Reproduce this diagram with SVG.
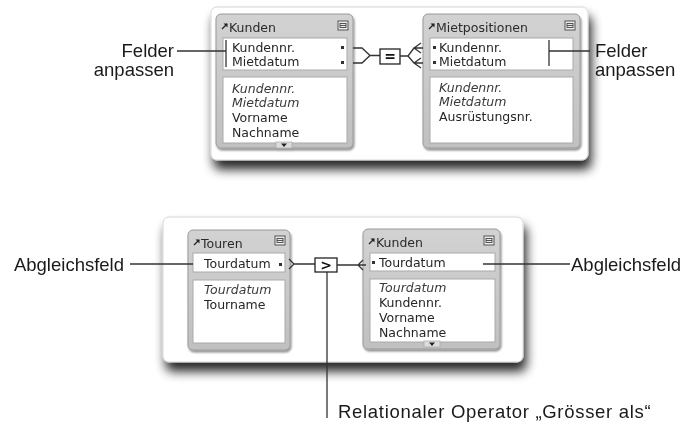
<svg xmlns="http://www.w3.org/2000/svg" width="690" height="427" viewBox="0 0 690 427">
<defs>
<filter id="pshadow" x="-10%" y="-15%" width="125%" height="150%">
<feGaussianBlur in="SourceAlpha" stdDeviation="5.5"/>
<feOffset dx="3" dy="9" result="b"/>
<feComponentTransfer><feFuncA type="linear" slope="0.85"/></feComponentTransfer>
<feMerge><feMergeNode/><feMergeNode in="SourceGraphic"/></feMerge>
</filter>
<filter id="tshadow" x="-10%" y="-10%" width="125%" height="125%">
<feGaussianBlur in="SourceAlpha" stdDeviation="1.2"/>
<feOffset dx="0.5" dy="1.5"/>
<feComponentTransfer><feFuncA type="linear" slope="0.45"/></feComponentTransfer>
<feMerge><feMergeNode/><feMergeNode in="SourceGraphic"/></feMerge>
</filter>
<linearGradient id="tg" x1="0" y1="0" x2="0" y2="1">
<stop offset="0" stop-color="#d2d2d2"/>
<stop offset="1" stop-color="#c0c0c0"/>
</linearGradient>
<g id="menuicon">
<rect x="0" y="0" width="10" height="9" fill="#ececec" stroke="#555" stroke-width="1"/>
<rect x="2" y="2.5" width="6" height="4" fill="none" stroke="#444" stroke-width="0.9"/>
<line x1="2" y1="4.5" x2="8" y2="4.5" stroke="#444" stroke-width="0.9"/>
</g>
<g id="arrowicon">
<path d="M0,6 L5,1" stroke="#222" stroke-width="1.3" fill="none"/>
<path d="M1.5,0.5 H5.5 V4.5 Z" fill="#222"/>
</g>
<g id="scrolltab">
<rect x="0" y="0" width="16" height="6" fill="#dcdcdc" stroke="#aaa" stroke-width="0.7"/>
<path d="M5,1.5 H11 L8,5 Z" fill="#222"/>
</g>
</defs>
<style>
.panel{fill:#ffffff;stroke:#d6d6d6;stroke-width:1}
.tbl{fill:url(#tg);stroke:#9a9a9a;stroke-width:1}
.box{fill:#ffffff;stroke:#a9a9a9;stroke-width:1}
.t{font-family:"DejaVu Sans",sans-serif;font-size:12.5px;fill:#262626}
.it{font-style:italic;fill:#3a3a3a}
.ttl{font-family:"DejaVu Sans",sans-serif;font-size:12.5px;fill:#2a2a2a}
.lbl{font-family:"Liberation Sans",Arial,sans-serif;font-size:18.5px;fill:#1a1a1a}
.ln{stroke:#333;stroke-width:1.3;fill:none}
.op{fill:#fff;stroke:#222;stroke-width:1.3}
.opt{font-family:"DejaVu Sans",sans-serif;font-size:14px;font-weight:bold;fill:#111;text-anchor:middle}
.mk{fill:#333}
</style>

<rect class="panel" x="211" y="7" width="377" height="153" rx="6" filter="url(#pshadow)"/>
<rect class="panel" x="163" y="217" width="360" height="145" rx="6" filter="url(#pshadow)"/>

<g id="kunden1" filter="url(#tshadow)">
<rect class="tbl" x="216" y="14" width="137" height="134" rx="5"/>
<use href="#arrowicon" x="222" y="23"/>
<text class="ttl" x="229" y="32">Kunden</text>
<use href="#menuicon" x="338" y="21"/>
<rect class="box" x="223" y="38" width="124" height="32"/>
<text class="t" x="232" y="52">Kundennr.</text>
<text class="t" x="232" y="66">Mietdatum</text>
<rect class="mk" x="341" y="46" width="3" height="3"/>
<rect class="mk" x="341" y="61" width="3" height="3"/>
<rect class="box" x="223" y="77" width="124" height="66"/>
<text class="t it" x="232" y="93">Kundennr.</text>
<text class="t it" x="232" y="107">Mietdatum</text>
<text class="t" x="232" y="122">Vorname</text>
<text class="t" x="232" y="137">Nachname</text>
<use href="#scrolltab" x="276" y="142"/>
</g>

<g id="mietpositionen" filter="url(#tshadow)">
<rect class="tbl" x="423" y="14" width="157" height="134" rx="5"/>
<use href="#arrowicon" x="429" y="23"/>
<text class="ttl" x="436" y="32">Mietpositionen</text>
<use href="#menuicon" x="565" y="21"/>
<rect class="box" x="430" y="38" width="143" height="32"/>
<rect class="mk" x="433" y="46" width="3" height="3"/>
<rect class="mk" x="433" y="61" width="3" height="3"/>
<text class="t" x="439" y="52">Kundennr.</text>
<text class="t" x="439" y="66">Mietdatum</text>
<rect class="box" x="430" y="77" width="143" height="66"/>
<text class="t it" x="439" y="92">Kundennr.</text>
<text class="t it" x="439" y="106">Mietdatum</text>
<text class="t" x="439" y="121">Ausrüstungsnr.</text>
</g>

<g id="touren" filter="url(#tshadow)">
<rect class="tbl" x="188" y="230" width="102" height="120" rx="5"/>
<use href="#arrowicon" x="194" y="239"/>
<text class="ttl" x="201" y="248">Touren</text>
<use href="#menuicon" x="275" y="236"/>
<rect class="box" x="193" y="253" width="92" height="19"/>
<text class="t" x="204" y="268">Tourdatum</text>
<rect class="mk" x="279" y="263" width="3" height="3"/>
<rect class="box" x="193" y="280" width="92" height="63"/>
<text class="t it" x="204" y="294">Tourdatum</text>
<text class="t" x="204" y="309">Tourname</text>
</g>

<g id="kunden2" filter="url(#tshadow)">
<rect class="tbl" x="363" y="229" width="137" height="120" rx="5"/>
<use href="#arrowicon" x="369" y="238"/>
<text class="ttl" x="376" y="247">Kunden</text>
<use href="#menuicon" x="484" y="236"/>
<rect class="box" x="370" y="253" width="125" height="18"/>
<rect class="mk" x="372" y="261" width="3" height="3"/>
<text class="t" x="379" y="267">Tourdatum</text>
<rect class="box" x="370" y="279" width="125" height="63"/>
<text class="t it" x="379" y="292">Tourdatum</text>
<text class="t" x="379" y="307">Kundennr.</text>
<text class="t" x="379" y="322">Vorname</text>
<text class="t" x="379" y="337">Nachname</text>
<use href="#scrolltab" x="424" y="341"/>
</g>

<g id="connectors">
<path class="ln" d="M353,48 H362 L370,55.5 M353,63 H362 L370,55.5 H380"/>
<rect class="op" x="380" y="49" width="20" height="15"/>
<text class="opt" x="390" y="61">=</text>
<path class="ln" d="M400,56 H408 L414,48 M408,56 L414,63 M421,43 L414,48 L421,53 M414,48 H423 M421,58 L414,63 L421,68 M414,63 H423"/>
<path class="ln" d="M289,259 L294,264 L289,269 M294,264 H315"/>
<rect class="op" x="315" y="258" width="22" height="14"/>
<text class="opt" x="326" y="270">&gt;</text>
<path class="ln" d="M337,265 H358 M363,260 L358,265 L363,270 M358,265 H366"/>
<path class="ln" d="M327,272 V418"/>
<path class="ln" d="M177,51 H226 M226,40 V67"/>
<path class="ln" d="M549,40 V66 M549,51 H590"/>
<path class="ln" d="M130,264 H193"/>
<path class="ln" d="M483,264 H570"/>
</g>

<g id="labels">
<text class="lbl" x="174" y="57" text-anchor="end">Felder</text>
<text class="lbl" x="174" y="76" text-anchor="end">anpassen</text>
<text class="lbl" x="595" y="57">Felder</text>
<text class="lbl" x="595" y="76">anpassen</text>
<text class="lbl" x="124" y="271" text-anchor="end">Abgleichsfeld</text>
<text class="lbl" x="571" y="271">Abgleichsfeld</text>
<text class="lbl" x="338" y="418" letter-spacing="0.7">Relationaler Operator „Grösser als“</text>
</g>
</svg>
